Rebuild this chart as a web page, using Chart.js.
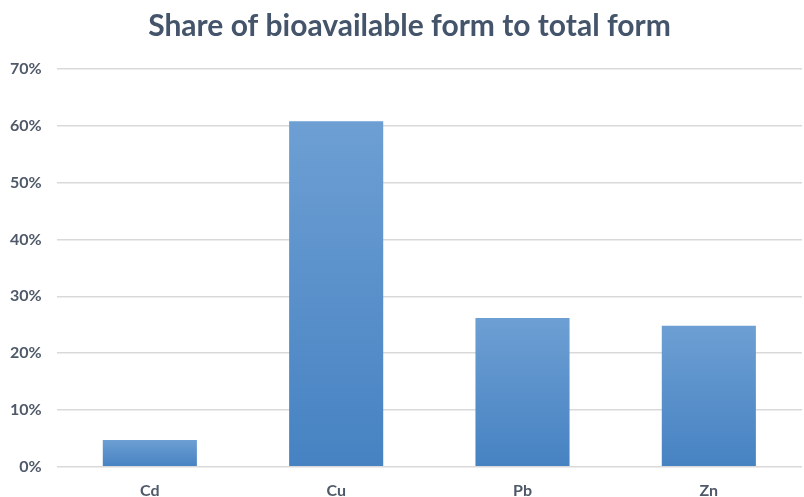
<!DOCTYPE html>
<html>
<head>
<meta charset="utf-8">
<script src="https://cdn.jsdelivr.net/npm/chart.js@4"></script>
<style>
  html, body { margin: 0; padding: 0; background: #fff; }
  canvas { display: block; }
</style>
</head>
<body>
<canvas id="shareChart" width="804" height="497"></canvas>
<script>
// Data
const metals = ['Cd', 'Cu', 'Pb', 'Zn'];
const bioShare = [0.047, 0.608, 0.262, 0.248];
const yTicks = [0, 0.1, 0.2, 0.3, 0.4, 0.5, 0.6, 0.7];

const labelColor = '#4f5968';
const gridColor = '#d9d9d9';

// gradient per bar, light at top, darker at bottom
function barGradient(context) {
    const chart = context.chart;
    const y = chart.scales.y;
    if (!chart.chartArea || !y || context.dataIndex === undefined) return '#5b93cd';
    const top = y.getPixelForValue(bioShare[context.dataIndex]);
    const bottom = y.getPixelForValue(0);
    if (!isFinite(top) || !isFinite(bottom)) return '#5b93cd';
    const g = chart.ctx.createLinearGradient(0, top, 0, bottom);
    g.addColorStop(0, '#6d9fd3');
    g.addColorStop(1, '#4682c2');
    return g;
}

// title sits a little right of the canvas centre in the original
const nudgeTitle = {
    id: 'nudgeTitle',
    afterLayout(chart) {
        if (chart.titleBlock) {
            chart.titleBlock.left += 11;
            chart.titleBlock.right += 11;
        }
    }
};

document.addEventListener('DOMContentLoaded', function() {
    const ctx = document.getElementById('shareChart').getContext('2d');
    new Chart(ctx, {
        type: 'bar',
        data: {
            labels: metals,
            datasets: [{
                label: 'Share',
                data: bioShare,
                backgroundColor: barGradient,
                borderWidth: 0,
                categoryPercentage: 1,
                barPercentage: 0.505
            }]
        },
        options: {
            responsive: false,
            animation: false,
            layout: { padding: { left: -5, right: 2, top: 5, bottom: -17 } },
            plugins: {
                legend: { display: false },
                tooltip: { enabled: false },
                title: {
                    display: true,
                    text: 'Share of bioavailable form to total form',
                    color: '#44546a',
                    font: { family: 'Lato', size: 30, weight: 'bold' },
                    padding: { top: 3, bottom: 25 }
                }
            },
            scales: {
                y: {
                    min: 0,
                    max: 0.7,
                    afterBuildTicks: function(axis) {
                        axis.ticks = yTicks.map(v => ({ value: v }));
                    },
                    ticks: {
                        color: labelColor,
                        font: { family: 'Lato', size: 16, weight: 'bold' },
                        padding: 15,
                        callback: v => Math.round(v * 100) + '%'
                    },
                    grid: { color: gridColor, lineWidth: 1.5, drawTicks: false },
                    border: { display: false }
                },
                x: {
                    ticks: {
                        color: labelColor,
                        font: { family: 'Lato', size: 16, weight: 'bold' },
                        padding: 14
                    },
                    grid: { display: false, drawTicks: false },
                    border: { display: false }
                }
            }
        },
        plugins: [nudgeTitle]
    });
});
</script>
</body>
</html>
